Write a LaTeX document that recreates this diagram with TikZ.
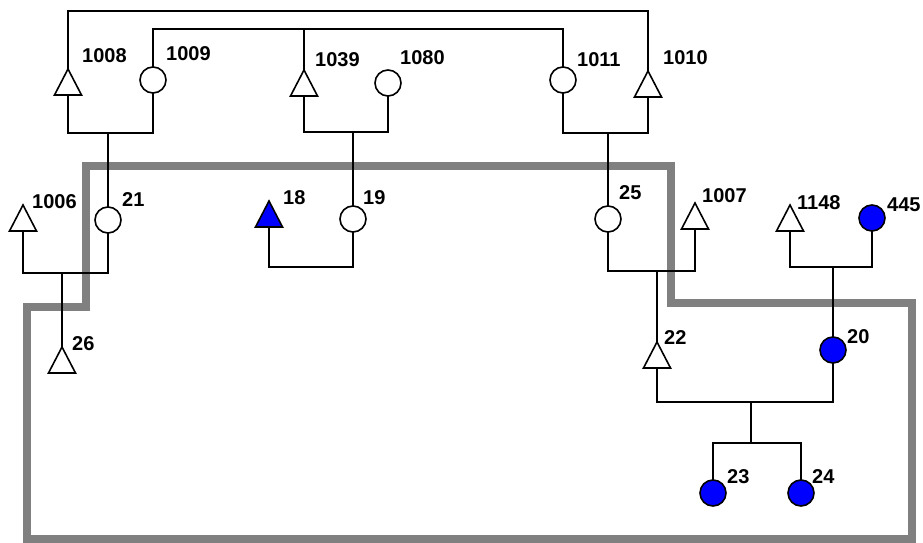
\documentclass[tikz,border=0pt]{standalone}
\usepackage{fontspec}
\setmainfont{Liberation Sans}
\definecolor{famblue}{RGB}{0,0,255}
\definecolor{boxgray}{RGB}{128,128,128}
\begin{document}
\begin{tikzpicture}[x=1pt,y=-1pt,
  link/.style={draw=black,line width=1.6pt},
  tri/.style={rectangle,minimum width=27pt,minimum height=26pt,inner sep=0pt,outer sep=0pt},
  circ/.style={circle,draw=black,line width=1.6pt,fill=white,minimum size=26pt,inner sep=0pt,outer sep=0pt},
  aff/.style={fill=famblue},
  lab/.style={anchor=west,inner sep=0pt,text depth=0pt,font=\fontsize{20}{20}\selectfont\bfseries},
  grayline/.style={draw=boxgray,line width=7.5pt,line join=miter}]
\useasboundingbox (0,0) rectangle (923,543);
% gray boundary
\draw[grayline] (86,166) -- (671,166) -- (671,303) -- (912,303) -- (912,539) -- (27,539) -- (27,307) -- (86,307) -- cycle;
% nodes
\node[tri] (t1008) at (68,82) {};
\node[circ] (c1009) at (153,80) {};
\node[tri] (t1039) at (304,83) {};
\node[circ] (c1080) at (388,83) {};
\node[circ] (c1011) at (563,80) {};
\node[tri] (t1010) at (648,84) {};
\node[tri] (t1006) at (23,218) {};
\node[circ] (c21) at (108,220) {};
\node[tri] (t18) at (269,214) {};
\node[circ] (c19) at (353,219) {};
\node[circ] (c25) at (608,219) {};
\node[tri] (t1007) at (695,216) {};
\node[tri] (t1148) at (790,218) {};
\node[circ,aff] (c445) at (872,218) {};
\node[tri] (t26) at (62,360) {};
\node[tri] (t22) at (657,355) {};
\node[circ,aff] (c20) at (833,350) {};
\node[circ,aff] (c23) at (713,493) {};
\node[circ,aff] (c24) at (801,493) {};
% helper coordinates
\coordinate (top) at (0,11);
\coordinate (sec) at (0,29);
\coordinate (m1) at (108,133);
\coordinate (m2) at (353,132);
\coordinate (m3) at (608,133);
\coordinate (m4) at (62,273);
\coordinate (m5) at (0,267);
\coordinate (m6) at (657,271);
\coordinate (m7) at (833,267);
\coordinate (m8) at (751,402);
\coordinate (s8) at (751,443);
% connectors
\draw[link] (t1008.north) -- (t1008.north |- top) -- (t1010.north |- top) -- (t1010.north);
\draw[link] (c1009.north) -- (c1009.north |- sec) -- (c1011.north |- sec) -- (c1011.north);
\draw[link] (t1039.north) -- (t1039.north |- sec);
\draw[link] (t1008.south) -- (t1008.south |- m1) -- (c1009.south |- m1) -- (c1009.south);
\draw[link] (m1) -- (c21.north);
\draw[link] (t1039.south) -- (t1039.south |- m2) -- (c1080.south |- m2) -- (c1080.south);
\draw[link] (m2) -- (c19.north);
\draw[link] (c1011.south) -- (c1011.south |- m3) -- (t1010.south |- m3) -- (t1010.south);
\draw[link] (m3) -- (c25.north);
\draw[link] (t1006.south) -- (t1006.south |- m4) -- (c21.south |- m4) -- (c21.south);
\draw[link] (m4) -- (t26.north);
\draw[link] (t18.south) -- (t18.south |- m5) -- (c19.south |- m5) -- (c19.south);
\draw[link] (c25.south) -- (c25.south |- m6) -- (t1007.south |- m6) -- (t1007.south);
\draw[link] (m6) -- (t22.north);
\draw[link] (t1148.south) -- (t1148.south |- m7) -- (c445.south |- m7) -- (c445.south);
\draw[link] (m7) -- (c20.north);
\draw[link] (t22.south) -- (t22.south |- m8) -- (c20.south |- m8) -- (c20.south);
\draw[link] (m8) -- (s8);
\draw[link] (c23.north) -- (c23.north |- s8) -- (c24.north |- s8) -- (c24.north);
% triangle outlines
\foreach \n in {t1008,t1039,t1010,t1006,t1007,t1148,t26,t22}
  \draw[link,fill=white,line join=miter] (\n.north) -- (\n.south east) -- (\n.south west) -- cycle;
\draw[link,fill=famblue,line join=miter] (t18.north) -- (t18.south east) -- (t18.south west) -- cycle;
% labels
\node[lab] (l1008) at (82,56) {1008};
\node[lab] (l1009) at (166,54) {1009};
\node[lab] (l1039) at (315,60) {1039};
\node[lab] (l1080) at (400,58) {1080};
\node[lab] (l1011) at (577,60) {1011};
\node[lab] (l1010) at (663,58) {1010};
\node[lab] (l1006) at (32,202) {1006};
\node[lab] (l21) at (122,200) {21};
\node[lab] (l26) at (72,344) {26};
\node[lab] (l18) at (283,198) {18};
\node[lab] (l19) at (363,198) {19};
\node[lab] (l25) at (619,193) {25};
\node[lab] (l1007) at (702,196) {1007};
\node[lab] (l1148) at (797,203) {1148};
\node[lab] (l445) at (887,205) {445};
\node[lab] (l20) at (847,337) {20};
\node[lab] (l22) at (664,338) {22};
\node[lab] (l23) at (727,477) {23};
\node[lab] (l24) at (812,477) {24};
\end{tikzpicture}
\end{document}
